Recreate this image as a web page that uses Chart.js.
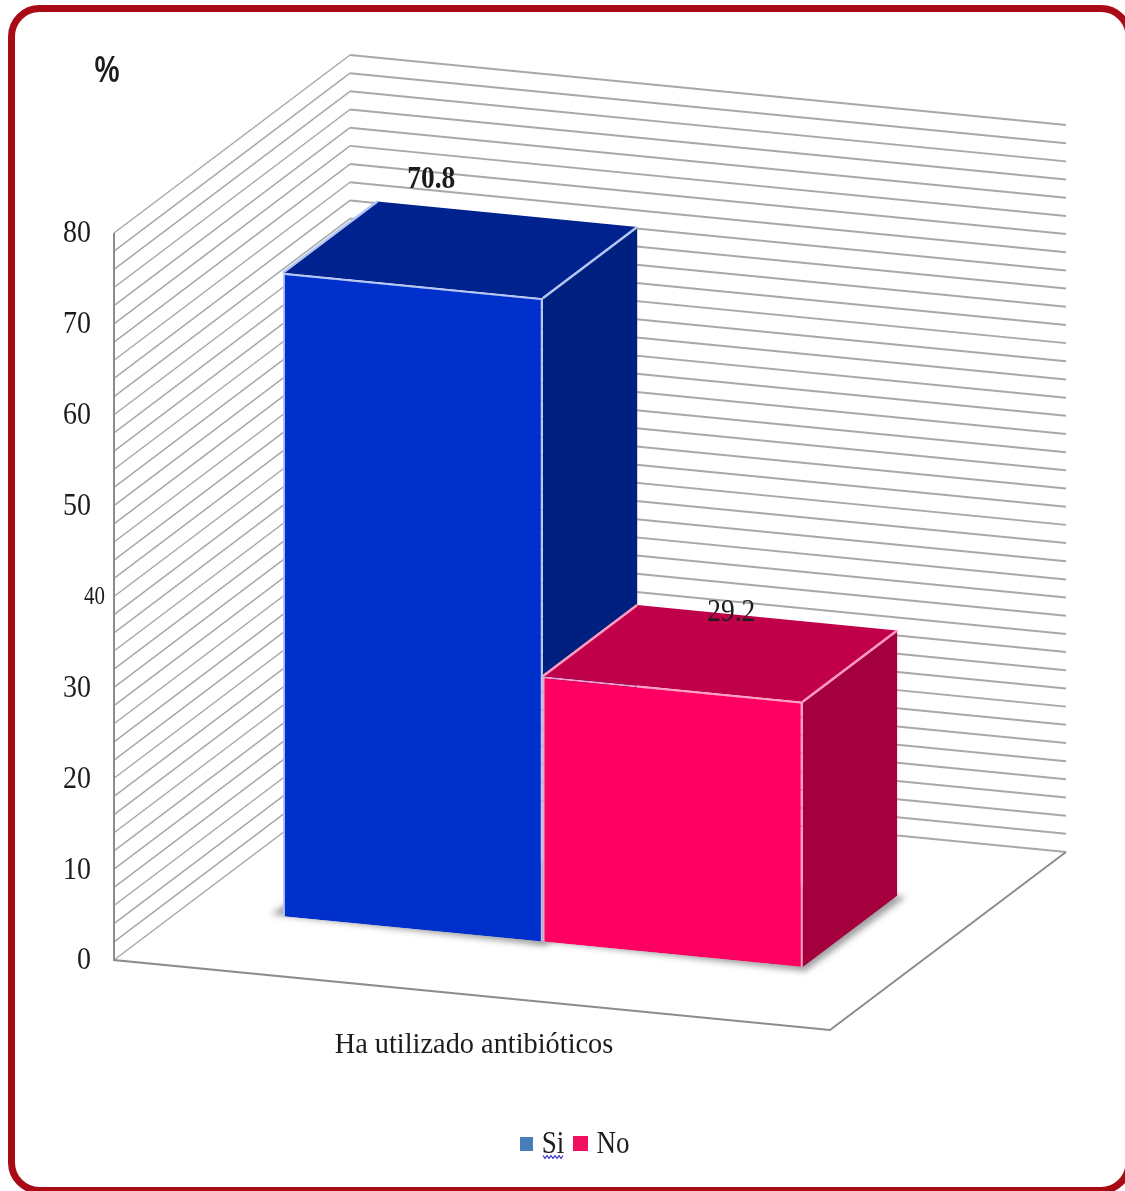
<!DOCTYPE html>
<html lang="es">
<head>
<meta charset="utf-8">
<title>Ha utilizado antibióticos</title>
<style>
  html, body { margin: 0; padding: 0; background: #fff; overflow: hidden; }
  canvas { display: block; }
</style>
<script src="https://cdn.jsdelivr.net/npm/chart.js@4/dist/chart.umd.min.js"></script>
</head>
<body>
<canvas id="grafico" width="1125" height="1191"></canvas>
<script>
// =========================================================
// 1. DATOS
// =========================================================
const categorias = ['Ha utilizado antibióticos'];
const series = ['Si', 'No'];
const valores = [70.8, 29.2];
const titulo = '%';

const colorFrente = ['#0030cc', '#ff0062'];
const colorArriba = ['#00228e', '#c00048'];
const colorLado = ['#002080', '#a5003e'];
const colorBorde = ['#b4c6f4', '#ff9cc4'];
const colorLeyenda = ['#4a7ebb', '#f0105f'];

// =========================================================
// 2. PROYECCIÓN (plano frontal inclinado + profundidad)
// =========================================================
const PENDIENTE = 0.0978;
const FONDO = { x: 236, y: -178 };
const BARRA_DE = 0.3;
const BARRA_A = 0.7;

function proy(area, x, y, prof) {
    return [x + FONDO.x * prof, y + (x - area.left) * PENDIENTE + FONDO.y * prof];
}

function poligono(ctx, puntos) {
    ctx.beginPath();
    puntos.forEach((p, i) => i ? ctx.lineTo(p[0], p[1]) : ctx.moveTo(p[0], p[1]));
    ctx.closePath();
}

// El texto del gráfico va algo estirado en vertical
function texto(ctx, cadena, x, y, font, align, estiraX) {
    ctx.save();
    ctx.translate(x, y);
    ctx.scale(estiraX || 1, 1.14);
    ctx.font = font;
    ctx.textAlign = align;
    ctx.textBaseline = 'middle';
    ctx.fillStyle = '#1c1c1c';
    ctx.fillText(cadena, 0, 0);
    ctx.restore();
}

function caras(chart) {
    const area = chart.chartArea;
    return valores.map((v, i) => {
        const b = chart.getDatasetMeta(i).data[0];
        const izq = b.x - b.width / 2, der = b.x + b.width / 2;
        return {
            fa: proy(area, izq, b.y, BARRA_DE), fb: proy(area, der, b.y, BARRA_DE),
            ta: proy(area, izq, b.y, BARRA_A), tb: proy(area, der, b.y, BARRA_A),
            ba: proy(area, izq, b.base, BARRA_DE), bb: proy(area, der, b.base, BARRA_DE),
            bc: proy(area, der, b.base, BARRA_A), bd: proy(area, izq, b.base, BARRA_A)
        };
    });
}

// =========================================================
// 3. PLUGIN 3D
// =========================================================
const plugin3d = {
    id: 'barras3d',
    beforeDraw(chart) {
        const { ctx, chartArea: area, scales: { y } } = chart;

        // Marco redondeado (los lados derecho e inferior quedan casi fuera)
        ctx.save();
        ctx.fillStyle = '#fff';
        ctx.fillRect(0, 0, chart.width, chart.height);
        ctx.beginPath();
        ctx.roundRect(11.5, 8.5, 1117.5, 1182, 28);
        ctx.lineWidth = 7;
        ctx.strokeStyle = '#a80a16';
        ctx.stroke();
        ctx.restore();

        // Paredes: una línea por cada tick
        ctx.save();
        ctx.strokeStyle = '#a8a8a8';
        y.ticks.forEach(t => {
            const py = y.getPixelForValue(t.value);
            const b = proy(area, area.left, py, 1);
            const c = proy(area, area.right, py, 1);
            ctx.beginPath();
            ctx.moveTo(area.left, py);
            ctx.lineTo(b[0], b[1]);
            ctx.lineWidth = 1.5;
            ctx.stroke();
            ctx.beginPath();
            ctx.moveTo(b[0], b[1]);
            ctx.lineTo(c[0], c[1]);
            ctx.lineWidth = 2;
            ctx.stroke();
        });

        // Piso y eje vertical
        const cero = y.getPixelForValue(0);
        ctx.beginPath();
        ctx.moveTo(area.left, y.getPixelForValue(80));
        ctx.lineTo(area.left, cero);
        const esq = proy(area, area.right, cero, 0);
        const esq2 = proy(area, area.right, cero, 1);
        ctx.lineTo(esq[0], esq[1]);
        ctx.lineTo(esq2[0], esq2[1]);
        ctx.lineWidth = 2;
        ctx.strokeStyle = '#8c8c8c';
        ctx.stroke();
        ctx.restore();
    },
    beforeDatasetsDraw(chart) {
        const { ctx, chartArea: area } = chart;
        const lista = caras(chart);

        // Sombra sobre el piso
        ctx.save();
        ctx.filter = 'blur(3px)';
        ctx.fillStyle = '#a0a0a0';
        lista.forEach(c => {
            poligono(ctx, [
                [c.ba[0] - 12, c.ba[1] - 2], [c.bb[0], c.bb[1] + 4],
                [c.bb[0] + 3, c.bb[1] + 4], [c.bc[0] + 9, c.bc[1] + 1], c.bd
            ]);
            ctx.fill();
        });
        ctx.restore();

        // Lado y tapa de cada barra, de izquierda a derecha
        lista.forEach((c, i) => {
            ctx.lineWidth = 2.5;
            ctx.lineJoin = 'round';
            poligono(ctx, [c.fb, c.tb, c.bc, c.bb]);
            ctx.fillStyle = colorLado[i];
            ctx.fill();
            poligono(ctx, [c.fa, c.fb, c.tb, c.ta]);
            ctx.fillStyle = colorArriba[i];
            ctx.fill();
            ctx.strokeStyle = colorBorde[i];
            ctx.beginPath();
            ctx.moveTo(c.fa[0], c.fa[1]);
            ctx.lineTo(c.ta[0], c.ta[1]);
            ctx.stroke();
            ctx.beginPath();
            ctx.moveTo(c.fb[0], c.fb[1]);
            ctx.lineTo(c.tb[0], c.tb[1]);
            ctx.stroke();
        });

        // Las caras frontales las dibuja Chart.js sobre el plano inclinado
        ctx.save();
        ctx.transform(1, PENDIENTE, 0, 1,
            FONDO.x * BARRA_DE,
            FONDO.y * BARRA_DE - area.left * PENDIENTE);
    },
    afterDatasetsDraw(chart) {
        const { ctx, scales: { x, y } } = chart;
        ctx.restore();

        const lista = caras(chart);
        const serif = '"Liberation Serif"';

        // Ticks: solo se rotulan las decenas
        y.ticks.forEach(t => {
            if (t.value % 10 !== 0) return;
            const py = y.getPixelForValue(t.value);
            if (t.value === 40) {
                texto(ctx, String(t.value), 105, py + 1, '22px ' + serif, 'right', 0.95);
            } else {
                texto(ctx, String(t.value), 91, py + 1, '28px ' + serif, 'right');
            }
        });

        // Valores de las barras
        texto(ctx, valores[0].toFixed(1), lista[0].ta[0] + 54, lista[0].ta[1] - 22,
            'bold 28px ' + serif, 'center', 0.98);
        texto(ctx, valores[1].toFixed(1), lista[1].ta[0] + 94, lista[1].ta[1] + 8,
            '28px ' + serif, 'center', 0.98);

        // Título del eje y categoría
        texto(ctx, titulo, 107, 72, 'bold 32px "Liberation Sans"', 'center', 0.88);
        texto(ctx, categorias[0], x.getPixelForTick(0) + 2, 1045, '26px ' + serif, 'center', 1.09);

        // Leyenda
        ctx.fillStyle = colorLeyenda[0];
        ctx.fillRect(520, 1137, 13, 14);
        texto(ctx, series[0], 553, 1145, '27px ' + serif, 'center');
        ctx.fillStyle = colorLeyenda[1];
        ctx.fillRect(573, 1136, 15, 15);
        texto(ctx, series[1], 613, 1145, '27px ' + serif, 'center');

        // Subrayado ondulado del corrector debajo de "Si"
        ctx.beginPath();
        for (let px = 543; px <= 563; px += 2) {
            const py = 1157 + (((px - 543) / 2) % 2 ? 1.5 : -1.5);
            if (px === 543) ctx.moveTo(px, py); else ctx.lineTo(px, py);
        }
        ctx.lineWidth = 1.2;
        ctx.strokeStyle = '#3a3ac0';
        ctx.stroke();
    }
};

// =========================================================
// 4. GRÁFICO
// =========================================================
new Chart(document.getElementById('grafico'), {
    type: 'bar',
    data: {
        labels: categorias,
        datasets: series.map((nombre, i) => ({
            label: nombre,
            data: [valores[i]],
            backgroundColor: colorFrente[i],
            borderColor: colorBorde[i],
            borderWidth: 2,
            borderSkipped: 'bottom',
            categoryPercentage: 0.726,
            barPercentage: 1,
            clip: false
        }))
    },
    options: {
        responsive: false,
        animation: false,
        layout: { padding: { left: 114, right: 295, top: 233, bottom: 231 } },
        plugins: {
            legend: { display: false },
            tooltip: { enabled: false }
        },
        scales: {
            x: { display: false },
            y: { display: false, min: 0, max: 80, ticks: { stepSize: 2 } }
        }
    },
    plugins: [plugin3d]
});
</script>
</body>
</html>
